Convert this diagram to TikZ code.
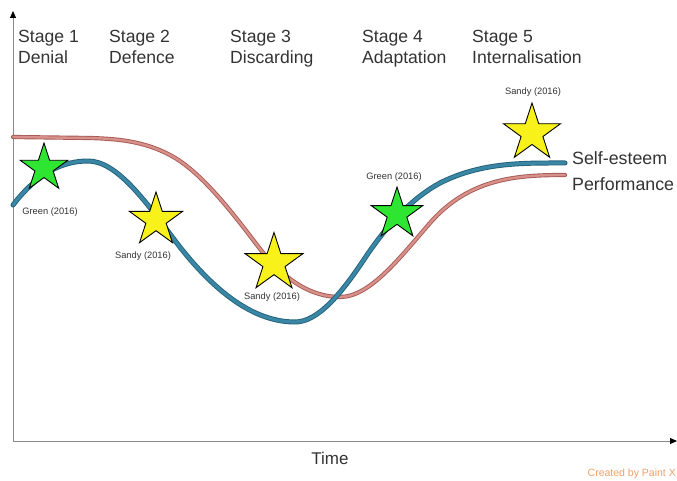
\documentclass[tikz,border=0pt]{standalone}
\usepackage{fontspec}
\setmainfont{Liberation Sans}
\usetikzlibrary{shapes.geometric,arrows.meta}
\definecolor{txt}{HTML}{333333}
\definecolor{axisgray}{HTML}{8A8A8A}
\definecolor{seOut}{HTML}{22617A}
\definecolor{seIn}{HTML}{3A87A5}
\definecolor{pfOut}{HTML}{A65A54}
\definecolor{pfIn}{HTML}{D8908A}
\definecolor{starY}{HTML}{F8F21A}
\definecolor{starG}{HTML}{2EE632}
\definecolor{credit}{HTML}{F0A06A}
\tikzset{
  stagelabel/.style={anchor=north west, align=left, text=txt, font=\fontsize{17.6}{21.5}\selectfont, inner sep=0pt},
  curvelabel/.style={anchor=west, text=txt, font=\fontsize{17.8}{20}\selectfont, inner sep=0pt},
  citelabel/.style={text=txt, font=\fontsize{9.3}{11}\selectfont, inner sep=0pt},
  starmark/.style={star, star points=5, star point ratio=2.618, inner sep=0pt, draw=black, line width=0.9pt},
  ystar/.style={starmark, fill=starY},
  gstar/.style={starmark, fill=starG},
  axisline/.style={draw=axisgray, line width=1pt, -{Triangle[length=7pt,width=6pt,fill=black,color=black]}},
}
\begin{document}
\begin{tikzpicture}[x=1pt,y=-1pt]
\useasboundingbox (0,0) rectangle (677,481);

% axes
\coordinate (origin) at (13,441);
\coordinate (ytip) at (13,11);
\coordinate (xtip) at (677,441);
\draw[axisline] (origin) -- (ytip);
\draw[axisline] (origin) -- (xtip);

% stage headings
\node[stagelabel] (s1) at (18,30) {Stage 1\\Denial};
\node[stagelabel] (s2) at (109,30) {Stage 2\\Defence};
\node[stagelabel] (s3) at (230,30) {Stage 3\\Discarding};
\node[stagelabel] (s4) at (362,30) {Stage 4\\Adaptation};
\node[stagelabel] (s5) at (472,30) {Stage 5\\Internalisation};

% performance curve (piecewise cubic, tangent-continuous)
\foreach \w/\c in {4.2pt/pfOut, 2.4pt/pfIn}
  \draw[line width=\w, color=\c, line cap=round, line join=round]
    (13,137) -- (90,138)
    .. controls (116.7,138.8) and (143.3,140.9) .. (170,155)
    .. controls (199,170.4) and (228,206.7) .. (257,245)
    .. controls (284.7,281.5) and (312.3,297) .. (340,297)
    .. controls (370,297) and (400,257.5) .. (430,223)
    .. controls (470,177) and (520,175) .. (565,175);

% self-esteem curve
\foreach \w/\c in {5pt/seOut, 3.2pt/seIn}
  \draw[line width=\w, color=\c, line cap=round, line join=round]
    (13,205)
    .. controls (38,172.5) and (63,161) .. (88,161)
    .. controls (116.3,161) and (144.7,200) .. (173,238)
    .. controls (213.7,292.5) and (254.3,322) .. (295,322)
    .. controls (318.3,322) and (341.7,293) .. (365,258)
    .. controls (390,220.5) and (415,196.5) .. (440,183)
    .. controls (481.7,162) and (523,163) .. (565,163);

\node[curvelabel] (se) at (572,158) {Self-esteem};
\node[curvelabel] (pf) at (572,184) {Performance};

% stars with citations
\node[gstar, minimum size=50pt] (st1) at (44,168) {};
\node[ystar, minimum size=56pt] (st2) at (156,220) {};
\node[ystar, minimum size=61pt] (st3) at (274,263) {};
\node[gstar, minimum size=54pt] (st4) at (397,214) {};
\node[ystar, minimum size=60pt] (st5) at (532,133) {};

\node[citelabel] (c1) at (50,212) {Green (2016)};
\node[citelabel] (c2) at (143,256) {Sandy (2016)};
\node[citelabel] (c3) at (272,297) {Sandy (2016)};
\node[citelabel] (c4) at (394,177) {Green (2016)};
\node[citelabel] (c5) at (533,92) {Sandy (2016)};

% axis caption and credit
\node[text=txt, font=\fontsize{17}{19}\selectfont, inner sep=0pt] (time) at (330,458) {Time};
\node[text=credit, font=\fontsize{10.5}{12}\selectfont, anchor=east, inner sep=0pt] (cred) at (676,474) {Created by Paint X};
\end{tikzpicture}
\end{document}
